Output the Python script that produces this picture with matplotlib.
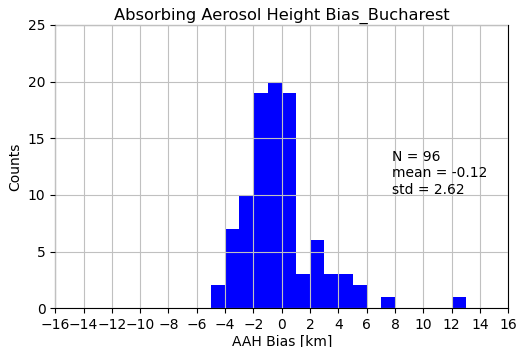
import numpy as np
import matplotlib
matplotlib.use("Agg")
import matplotlib.pyplot as plt

# histogram of AAH bias (counts per 1 km bin)
bin_edges = np.arange(-5, 14, 1)
counts = [2, 7, 10, 19, 20, 19, 3, 6, 3, 3, 2, 0, 1, 0, 0, 0, 0, 1]
n_total = 96
mean_bias = -0.12
std_bias = 2.62

fig, ax = plt.subplots(figsize=(5.16, 3.47), dpi=100)
ax.hist(bin_edges[:-1], bins=bin_edges, weights=counts, color="blue")
ax.set_axisbelow(False)
ax.grid(True, color="#c0c0c0")
ax.set_xlim(-16, 16)
ax.set_ylim(0, 25)
ax.set_xticks(np.arange(-16, 17, 2))
ax.set_yticks(np.arange(0, 26, 5))
ax.set_xlabel("AAH Bias [km]", labelpad=2)
ax.set_ylabel("Counts")
ax.set_title("Absorbing Aerosol Height Bias_Bucharest", fontsize=11.7, pad=4)
ax.text(7.8, 11.9, "N = %d\nmean = %.2f\nstd = %.2f" % (n_total, mean_bias, std_bias),
        va="center", ha="left", fontsize=10)
fig.subplots_adjust(left=0.107, right=0.985, top=0.928, bottom=0.112)
fig.savefig("out.png")
